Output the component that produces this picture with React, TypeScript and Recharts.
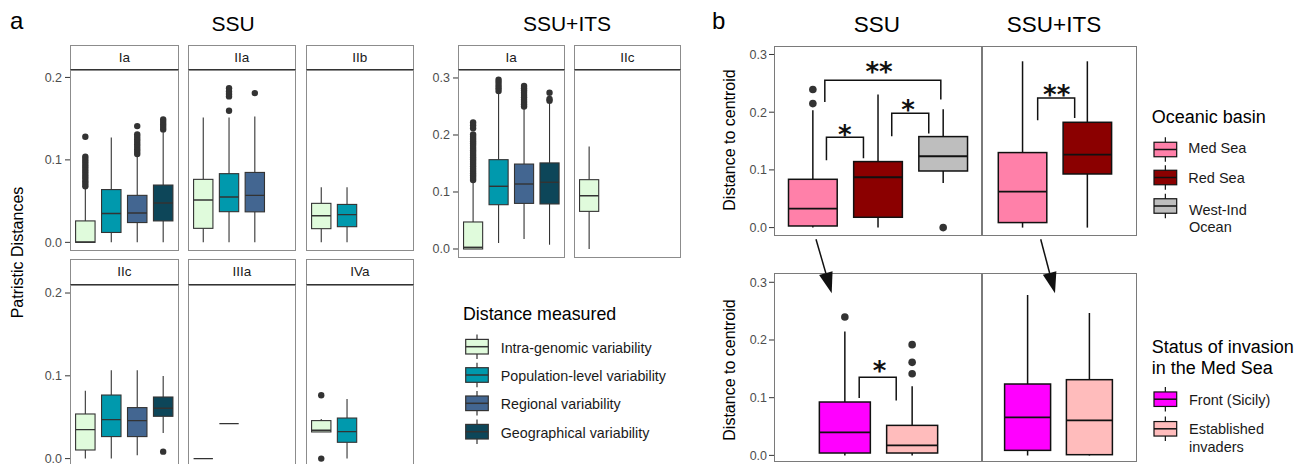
import React from "react";
import { ComposedChart, Bar, Line, Scatter, XAxis, YAxis } from "recharts";

const FONT = '"Liberation Sans", Arial, Helvetica, sans-serif';

// ---------- categories & colours ----------
const distanceTypes = [
  "Intra-genomic variability",
  "Population-level variability",
  "Regional variability",
  "Geographical variability",
];
const distanceColors = ["#e0fbdc", "#0099ad", "#436691", "#0d4659"];
const basins = ["Med Sea", "Red Sea", "West-Ind Ocean"];
const basinColors = ["#ff80a9", "#8b0000", "#bebebe"];
const invasionStatus = ["Front (Sicily)", "Established invaders"];
const invasionColors = ["#ff00ff", "#ffbcbc"];

const ticksA = [0, 0.1, 0.2];
const ticksA2 = [0, 0.1, 0.2, 0.3];
const ticksB = [0, 0.1, 0.2, 0.3];

// ---------- panel a, SSU : rows [min, q1, median, q3, max] ----------
const ssuIa = [
  [0, 0, 0.0005, 0.026, 0.065],
  [0, 0.012, 0.035, 0.064, 0.127],
  [0, 0.024, 0.0356, 0.057, 0.104],
  [0, 0.026, 0.0477, 0.0695, 0.1345],
];
const ssuIaOut = [
  [0.068, 0.071, 0.074, 0.077, 0.08, 0.083, 0.086, 0.089, 0.092, 0.095, 0.098, 0.101, 0.104, 0.128],
  [],
  [0.107, 0.11, 0.113, 0.116, 0.119, 0.122, 0.125, 0.128, 0.131, 0.141],
  [0.137, 0.14, 0.143, 0.146, 0.149],
];
const ssuIIa = [
  [0, 0.017, 0.0514, 0.0764, 0.1515],
  [0, 0.0372, 0.055, 0.0833, 0.1515],
  [0, 0.037, 0.057, 0.0848, 0.1527],
  null,
];
const ssuIIaOut = [[], [0.1596, 0.177, 0.18, 0.183, 0.187], [0.181], []];
const ssuIIb = [
  [0, 0.0166, 0.0323, 0.0473, 0.0667],
  [0, 0.019, 0.0336, 0.046, 0.0667],
  null,
  null,
];
const ssuIIbOut = [[], [], [], []];
const ssuIIc = [
  [0, 0.0104, 0.035, 0.0539, 0.0821],
  [0, 0.0266, 0.0471, 0.0768, 0.1066],
  [0.004, 0.0266, 0.0459, 0.0616, 0.1066],
  [0.031, 0.0511, 0.0608, 0.0744, 0.0998],
];
const ssuIIcOut = [[], [], [], [0.0084]];
const ssuIIIa = [
  [0, 0, 0, 0, 0],
  [0.0423, 0.0423, 0.0423, 0.0423, 0.0423],
  null,
  null,
];
const ssuIIIaOut = [[], [], [], []];
const ssuIVa = [
  [0.0322, 0.0322, 0.0342, 0.0459, 0.0479],
  [0, 0.0197, 0.0326, 0.049, 0.072],
  null,
  null,
];
const ssuIVaOut = [[0.0765, 0], [], [], []];

// ---------- panel a, SSU+ITS ----------
const itsIa = [
  [0, 0, 0.003, 0.0474, 0.118],
  [0.0105, 0.0777, 0.11, 0.1567, 0.272],
  [0.0175, 0.08, 0.114, 0.149, 0.246],
  [0.0075, 0.079, 0.117, 0.151, 0.256],
];
const itsIaOut = [
  [0.121, 0.125, 0.129, 0.133, 0.137, 0.141, 0.145, 0.149, 0.153, 0.157, 0.161, 0.165, 0.169, 0.173, 0.177, 0.181, 0.185, 0.189, 0.193, 0.197, 0.201, 0.212, 0.217, 0.222],
  [0.277, 0.282, 0.287, 0.292, 0.297],
  [0.25, 0.254, 0.258, 0.262, 0.266, 0.27, 0.274, 0.278, 0.282, 0.286],
  [0.26, 0.263, 0.274],
];
const itsIIc = [[0, 0.066, 0.0935, 0.1216, 0.18], null, null, null];
const itsIIcOut = [[], [], [], []];

// ---------- panel b ----------
const bTopSsu = [
  [0, 0.0028, 0.0329, 0.0837, 0.2033],
  [0, 0.0179, 0.0872, 0.1144, 0.2305],
  [0.0773, 0.0981, 0.1236, 0.1577, 0.205],
];
const bTopSsuOut = [[0.2149, 0.2392], [], [0]];
const bTopIts = [
  [0, 0.0087, 0.0624, 0.13, 0.2882],
  [0, 0.0929, 0.1265, 0.1825, 0.2882],
];
const bTopItsOut = [[], []];
const bBotSsu = [
  [0, 0.0041, 0.0399, 0.0925, 0.2149],
  [0, 0.0041, 0.0173, 0.052, 0.1196],
];
const bBotSsuOut = [[0.2398], [0.1416, 0.1612, 0.1919]];
const bBotIts = [
  [0, 0.0087, 0.0659, 0.1237, 0.278],
  [0, 0.0012, 0.0607, 0.1312, 0.2468],
];
const bBotItsOut = [[], []];

// significance brackets: x in category units, y in data units
const bTopSsuBrackets = [
  [[1.18, 0.2177], [1.18, 0.2553], [2.96, 0.2553], [2.96, 0.2218]],
  [[1.205, 0.1166], [1.205, 0.1565], [1.773, 0.1565], [1.773, 0.1201]],
  [[2.207, 0.1582], [2.207, 0.1981], [2.775, 0.1981], [2.775, 0.1629]],
];
const bTopSsuStars = [[2.013, 0.2808, "**"], [1.486, 0.1716, "*"], [2.458, 0.2149, "*"]];
const bTopItsBrackets = [[[1.231, 0.186], [1.231, 0.2246], [1.802, 0.2246], [1.802, 0.19]]];
const bTopItsStars = [[1.525, 0.2409, "**"]];
const bBotSsuBrackets = [[[1.211, 0.0995], [1.211, 0.1352], [1.761, 0.1352], [1.761, 0.0953]]];
const bBotSsuStars = [[1.513, 0.1572, "*"]];

// ---------- drawing ----------
const REF_LO = 0;
const REF_HI = 0.1;
const refRange = () => [REF_LO, REF_HI];

type Style = { stroke: string; lw: number; medW: number; r: number; outFill: string };
const styleA: Style = { stroke: "#333333", lw: 1.1, medW: 1.4, r: 3.2, outFill: "#333333" };
const styleB: Style = { stroke: "#111111", lw: 1.5, medW: 1.9, r: 3.8, outFill: "#333333" };

const makeBoxShape = (st: Style) => (props: any) => {
  const { x, y, width, height, payload } = props;
  const s = payload && payload.stat;
  if (!s) return <g />;
  const base = y + height;
  const k = height / (REF_HI - REF_LO);
  const py = (v: number) => base - (v - REF_LO) * k;
  const [mn, q1, md, q3, mx] = s;
  const cx = x + width / 2;
  return (
    <g>
      <line x1={cx} x2={cx} y1={py(q3)} y2={py(mx)} stroke={st.stroke} strokeWidth={st.lw} />
      <line x1={cx} x2={cx} y1={py(q1)} y2={py(mn)} stroke={st.stroke} strokeWidth={st.lw} />
      {q3 > q1 && (
        <rect
          x={x}
          y={py(q3)}
          width={width}
          height={py(q1) - py(q3)}
          fill={payload.fill}
          stroke={st.stroke}
          strokeWidth={st.lw}
        />
      )}
      <line x1={x} x2={x + width} y1={py(md)} y2={py(md)} stroke={st.stroke} strokeWidth={st.medW} />
      {payload.out.map((o: number, i: number) => (
        <circle key={i} cx={cx} cy={py(o)} r={st.r} fill={st.outFill} />
      ))}
    </g>
  );
};

const STAR_FS = 26;
const starShape = (props: any) => (
  <text
    x={props.cx}
    y={props.cy + 0.58 * STAR_FS}
    textAnchor="middle"
    fontSize={STAR_FS}
    fontWeight="bold"
    fontFamily='"DejaVu Sans", sans-serif'
    fill="#111"
  >
    {props.payload.label}
  </text>
);

interface FacetProps {
  left: number;
  top: number;
  width: number;
  height: number;
  domain: [number, number];
  ticks: number[];
  axisWidth?: number;
  cats: string[];
  colors: string[];
  stats: (number[] | null)[];
  outliers: number[][];
  padL: number;
  padR: number;
  boxW: number;
  strip?: string;
  stripH?: number;
  variant: "a" | "b";
  brackets?: number[][][];
  stars?: any[][];
}

function Facet(p: FacetProps) {
  const n = p.cats.length;
  const band = (p.width - p.padL - p.padR) / n;
  const axW = p.axisWidth ?? 0;
  const rows = p.cats.map((c, i) => ({
    cat: c,
    stat: p.stats[i],
    out: p.outliers[i] ?? [],
    fill: p.colors[i],
  }));
  const numDomain: [number, number] = [
    1 - (p.padL + band / 2) / band,
    1 + (p.width - p.padL - band / 2) / band,
  ];
  const st = p.variant === "a" ? styleA : styleB;
  const borderColor = p.variant === "a" ? "#8c8c8c" : "#7a7a7a";
  const stripH = p.stripH ?? 0;
  const starData = (p.stars ?? []).map((s) => ({ x: s[0], y: s[1], label: s[2] }));
  return (
    <>
      {p.strip && (
        <div
          style={{
            position: "absolute",
            left: p.left,
            top: p.top - stripH,
            width: p.width,
            height: stripH,
            boxSizing: "border-box",
            border: `1px solid ${borderColor}`,
            borderBottom: "1.5px solid #333",
            background: "#fff",
            fontFamily: FONT,
            fontSize: 13.5,
            color: "#1a1a1a",
            display: "flex",
            alignItems: "center",
            justifyContent: "center",
          }}
        >
          {p.strip}
        </div>
      )}
      <div style={{ position: "absolute", left: p.left - axW, top: p.top }}>
        <ComposedChart
          width={p.width + axW}
          height={p.height}
          data={rows}
          margin={{ top: 0, right: 0, bottom: 0, left: 0 }}
        >
          <XAxis dataKey="cat" type="category" hide padding={{ left: p.padL, right: p.padR }} />
          <XAxis xAxisId="n" type="number" dataKey="x" domain={numDomain} allowDataOverflow hide />
          <YAxis
            type="number"
            domain={p.domain}
            allowDataOverflow
            ticks={p.ticks}
            interval={0}
            tickFormatter={(v: number) => v.toFixed(1)}
            width={axW}
            hide={!axW}
            axisLine={false}
            tickLine={{ stroke: "#333", strokeWidth: 1 }}
            tickSize={5}
            tickMargin={p.variant === "a" ? 3 : 2}
            tick={{ fill: "#4d4d4d", fontSize: 12.5, fontFamily: FONT }}
          />
          <Bar dataKey={refRange} barSize={p.boxW} shape={makeBoxShape(st)} isAnimationActive={false} />
          {(p.brackets ?? []).map((b, i) => (
            <Line
              key={i}
              data={b.map((q) => ({ x: q[0], y: q[1] }))}
              xAxisId="n"
              dataKey="y"
              stroke="#111"
              strokeWidth={1.5}
              dot={false}
              activeDot={false}
              isAnimationActive={false}
            />
          ))}
          {starData.length > 0 && (
            <Scatter data={starData} xAxisId="n" dataKey="y" shape={starShape} isAnimationActive={false} />
          )}
        </ComposedChart>
      </div>
      <div
        style={{
          position: "absolute",
          left: p.left,
          top: p.top,
          width: p.width,
          height: p.height,
          boxSizing: "border-box",
          border: `1px solid ${borderColor}`,
          pointerEvents: "none",
        }}
      />
    </>
  );
}

// geometry helpers for panel a (ggplot discrete expansion 0.6)
const aPad = (w: number) => w / 42;
const aBox = (w: number) => (0.75 * w) / 4.2;

function LegendIcon({ x, cy, w, h, fill, stroke }: any) {
  return (
    <g>
      <line x1={x + w / 2} x2={x + w / 2} y1={cy - h / 2 - 5} y2={cy + h / 2 + 5} stroke={stroke} strokeWidth={1.2} />
      <rect x={x} y={cy - h / 2} width={w} height={h} fill={fill} stroke={stroke} strokeWidth={1.2} />
      <line x1={x} x2={x + w} y1={cy} y2={cy} stroke={stroke} strokeWidth={1.5} />
    </g>
  );
}

function Arrow({ x1, y1, x2, y2 }: any) {
  const dx = x2 - x1;
  const dy = y2 - y1;
  const len = Math.sqrt(dx * dx + dy * dy);
  const ux = dx / len;
  const uy = dy / len;
  const hl = 21;
  const hw = 7;
  const bx = x2 - ux * hl;
  const by = y2 - uy * hl;
  return (
    <g>
      <line x1={x1} y1={y1} x2={bx} y2={by} stroke="#111" strokeWidth={1.5} />
      <polygon
        points={`${x2},${y2} ${bx - uy * hw},${by + ux * hw} ${bx + uy * hw},${by - ux * hw}`}
        fill="#111"
      />
    </g>
  );
}

export default function App() {
  const topA = 70.3;
  const hTopA = 180.7;
  const domTopA: [number, number] = [-0.0101, 0.209];
  const botA = 284.7;
  const hBotA = 182.3;
  const domBotA: [number, number] = [-0.0105, 0.2097];
  const colsA = [
    { x: 70, w: 109 },
    { x: 187.7, w: 108.3 },
    { x: 305.7, w: 108.3 },
  ];
  const topRow = [
    { name: "Ia", s: ssuIa, o: ssuIaOut },
    { name: "IIa", s: ssuIIa, o: ssuIIaOut },
    { name: "IIb", s: ssuIIb, o: ssuIIbOut },
  ];
  const botRow = [
    { name: "IIc", s: ssuIIc, o: ssuIIcOut },
    { name: "IIIa", s: ssuIIIa, o: ssuIIIaOut },
    { name: "IVa", s: ssuIVa, o: ssuIVaOut },
  ];
  const colsIts = [
    { x: 457.7, w: 107, name: "Ia", s: itsIa, o: itsIaOut },
    { x: 573.7, w: 107.3, name: "IIc", s: itsIIc, o: itsIIcOut },
  ];

  const legendA = distanceTypes.map((t, i) => ({ t, c: distanceColors[i] }));
  const legendAy = [346.7, 375, 403.3, 431.7];
  const legendABase = [353.3, 380.7, 409, 437.7];

  return (
    <div
      style={{
        position: "absolute",
        left: 0,
        top: 0,
        width: 1309,
        height: 464,
        overflow: "hidden",
        background: "#fff",
        fontFamily: FONT,
      }}
    >
      {/* panel a, SSU */}
      {topRow.map((f, i) => (
        <Facet
          key={"t" + f.name}
          left={colsA[i].x}
          top={topA}
          width={colsA[i].w}
          height={hTopA}
          domain={domTopA}
          ticks={ticksA}
          axisWidth={i === 0 ? 35 : 0}
          cats={distanceTypes}
          colors={distanceColors}
          stats={f.s}
          outliers={f.o}
          padL={aPad(colsA[i].w)}
          padR={aPad(colsA[i].w)}
          boxW={aBox(colsA[i].w)}
          strip={f.name}
          stripH={25.6}
          variant="a"
        />
      ))}
      {botRow.map((f, i) => (
        <Facet
          key={"b" + f.name}
          left={colsA[i].x}
          top={botA}
          width={colsA[i].w}
          height={hBotA}
          domain={domBotA}
          ticks={ticksA}
          axisWidth={i === 0 ? 35 : 0}
          cats={distanceTypes}
          colors={distanceColors}
          stats={f.s}
          outliers={f.o}
          padL={aPad(colsA[i].w)}
          padR={aPad(colsA[i].w)}
          boxW={aBox(colsA[i].w)}
          strip={f.name}
          stripH={25.4}
          variant="a"
        />
      ))}
      {/* panel a, SSU+ITS */}
      {colsIts.map((f, i) => (
        <Facet
          key={"its" + f.name}
          left={f.x}
          top={70.3}
          width={f.w}
          height={188}
          domain={[-0.0158, 0.314]}
          ticks={ticksA2}
          axisWidth={i === 0 ? 35 : 0}
          cats={distanceTypes}
          colors={distanceColors}
          stats={f.s}
          outliers={f.o}
          padL={aPad(f.w)}
          padR={aPad(f.w)}
          boxW={aBox(f.w)}
          strip={f.name}
          stripH={25.6}
          variant="a"
        />
      ))}

      {/* panel b */}
      <Facet
        left={773.5}
        top={45.7}
        width={208.5}
        height={190}
        domain={[-0.01456, 0.3147]}
        ticks={ticksB}
        axisWidth={40}
        cats={basins}
        colors={basinColors}
        stats={bTopSsu}
        outliers={bTopSsuOut}
        padL={6.5}
        padR={6.5}
        boxW={48.7}
        variant="b"
        brackets={bTopSsuBrackets}
        stars={bTopSsuStars}
      />
      <Facet
        left={982}
        top={45.7}
        width={154.5}
        height={190}
        domain={[-0.01456, 0.3147]}
        ticks={ticksB}
        cats={basins.slice(0, 2)}
        colors={basinColors.slice(0, 2)}
        stats={bTopIts}
        outliers={bTopItsOut}
        padL={8.3}
        padR={16.6}
        boxW={48.5}
        variant="b"
        brackets={bTopItsBrackets}
        stars={bTopItsStars}
      />
      <Facet
        left={773.5}
        top={273.3}
        width={208.5}
        height={189.2}
        domain={[-0.0118, 0.3161]}
        ticks={ticksB}
        axisWidth={40}
        cats={invasionStatus}
        colors={invasionColors}
        stats={bBotSsu}
        outliers={bBotSsuOut}
        padL={37.35}
        padR={36.55}
        boxW={51}
        variant="b"
        brackets={bBotSsuBrackets}
        stars={bBotSsuStars}
      />
      <Facet
        left={982}
        top={273.3}
        width={154.5}
        height={189.2}
        domain={[-0.0118, 0.3161]}
        ticks={ticksB}
        cats={invasionStatus}
        colors={invasionColors}
        stats={bBotIts}
        outliers={bBotItsOut}
        padL={14.6}
        padR={16.3}
        boxW={46}
        variant="b"
      />

      {/* text, legends, arrows */}
      <svg
        width={1309}
        height={464}
        style={{ position: "absolute", left: 0, top: 0, pointerEvents: "none" }}
        fontFamily={FONT}
      >
        <text x={10} y={29} fontSize={24} fill="#000">a</text>
        <text x={712} y={29.3} fontSize={24} fill="#000">b</text>
        <text x={233} y={31} fontSize={21} textAnchor="middle" fill="#000">SSU</text>
        <text x={567} y={31} fontSize={21} textAnchor="middle" fill="#000">SSU+ITS</text>
        <text x={877} y={31.7} fontSize={22.5} textAnchor="middle" fill="#000">SSU</text>
        <text x={1054} y={31.7} fontSize={22.5} textAnchor="middle" fill="#000">SSU+ITS</text>

        <text
          transform="translate(23,252.5) rotate(-90)"
          fontSize={16}
          textAnchor="middle"
          fill="#000"
        >
          Patristic Distances
        </text>
        <text
          transform="translate(734.5,140) rotate(-90)"
          fontSize={16}
          textAnchor="middle"
          fill="#000"
        >
          Distance to centroid
        </text>
        <text
          transform="translate(734.5,370) rotate(-90)"
          fontSize={16}
          textAnchor="middle"
          fill="#000"
        >
          Distance to centroid
        </text>

        {/* legend a */}
        <text x={463} y={320} fontSize={17.8} fill="#000">Distance measured</text>
        {legendA.map((l, i) => (
          <g key={l.t}>
            <LegendIcon x={465.7} cy={legendAy[i]} w={22.6} h={14.6} fill={l.c} stroke="#333" />
            <text x={500.7} y={legendABase[i]} fontSize={14.3} fill="#1a1a1a">
              {l.t}
            </text>
          </g>
        ))}

        {/* legend b top */}
        <text x={1151.7} y={122.7} fontSize={18} fill="#000">Oceanic basin</text>
        <LegendIcon x={1154} cy={149.5} w={22.7} h={14.5} fill={basinColors[0]} stroke="#111" />
        <LegendIcon x={1154} cy={177.5} w={22.7} h={14.5} fill={basinColors[1]} stroke="#111" />
        <LegendIcon x={1154} cy={206} w={22.7} h={14.5} fill={basinColors[2]} stroke="#111" />
        <text x={1188.3} y={153} fontSize={14.5} fill="#1a1a1a">{basins[0]}</text>
        <text x={1188.3} y={182.7} fontSize={14.5} fill="#1a1a1a">{basins[1]}</text>
        <text x={1189} y={215} fontSize={14.5} fill="#1a1a1a">West-Ind</text>
        <text x={1189} y={232} fontSize={14.5} fill="#1a1a1a">Ocean</text>

        {/* legend b bottom */}
        <text x={1151.7} y={353.3} fontSize={18} fill="#000">Status of invasion</text>
        <text x={1151.7} y={374} fontSize={18} fill="#000">in the Med Sea</text>
        <LegendIcon x={1154} cy={399.2} w={22.7} h={14.5} fill={invasionColors[0]} stroke="#111" />
        <LegendIcon x={1154} cy={428.8} w={22.7} h={14.5} fill={invasionColors[1]} stroke="#111" />
        <text x={1189} y={405} fontSize={14.5} fill="#1a1a1a">Front (Sicily)</text>
        <text x={1189} y={434} fontSize={14.5} fill="#1a1a1a">Established</text>
        <text x={1189} y={451.7} fontSize={14.5} fill="#1a1a1a">invaders</text>

        {/* arrows */}
        <Arrow x1={816} y1={239.3} x2={831.7} y2={293.3} />
        <Arrow x1={1040.7} y1={239.3} x2={1055} y2={293.3} />
      </svg>
    </div>
  );
}
